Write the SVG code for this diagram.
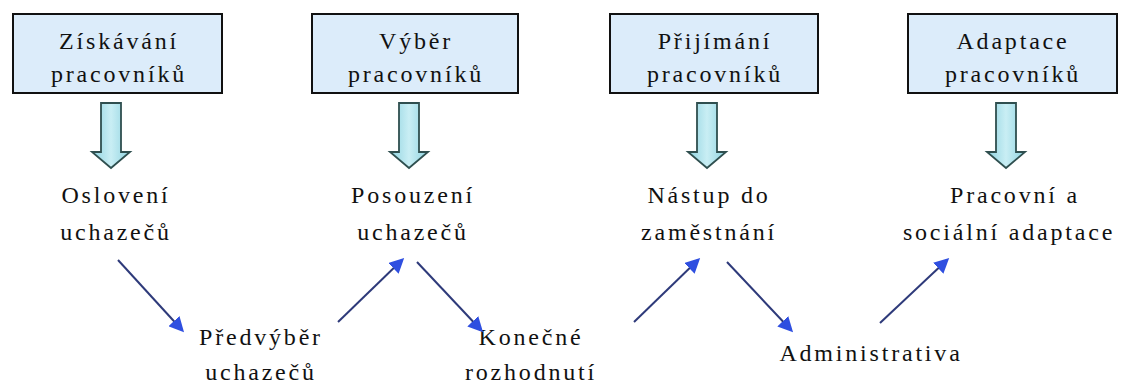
<svg xmlns="http://www.w3.org/2000/svg" width="1122" height="387" viewBox="0 0 1122 387">
<style>
.box{fill:#dcecfa;stroke:#111;stroke-width:2}
.t{font-family:'Liberation Serif','Times New Roman','DejaVu Serif',serif;font-size:24px;letter-spacing:2.8px;fill:#111;text-anchor:middle}
.blk{fill:url(#g);stroke:#2f4f4f;stroke-width:1.8}
.con{stroke:#2e3a7a;stroke-width:2;fill:none;marker-end:url(#ah)}
</style>
<defs>
<linearGradient id="g" x1="0" y1="0" x2="1" y2="0">
<stop offset="0" stop-color="#8fd3e0"/>
<stop offset="0.5" stop-color="#c9eef4"/>
<stop offset="1" stop-color="#8fd3e0"/>
</linearGradient>
<marker id="ah" viewBox="0 0 10 10" refX="8" refY="5" markerWidth="7.5" markerHeight="7.5" orient="auto" markerUnits="strokeWidth">
<path d="M0,0 L10,5 L0,10 Z" fill="#2f4fe0"/>
</marker>
</defs>
<rect width="1122" height="387" fill="#ffffff"/>

<g id="box-ziskavani">
<rect class="box" x="13" y="14" width="209" height="79"/>
<text class="t" x="119" y="49">Získávání</text>
<text class="t" x="119" y="82">pracovníků</text>
</g>
<g id="box-vyber">
<rect class="box" x="312" y="14" width="206" height="79"/>
<text class="t" x="416" y="49">Výběr</text>
<text class="t" x="416" y="82">pracovníků</text>
</g>
<g id="box-prijimani">
<rect class="box" x="610" y="14" width="208" height="79"/>
<text class="t" x="715" y="49">Přijímání</text>
<text class="t" x="715" y="82">pracovníků</text>
</g>
<g id="box-adaptace">
<rect class="box" x="908" y="14" width="209" height="79"/>
<text class="t" x="1013" y="49">Adaptace</text>
<text class="t" x="1013" y="82">pracovníků</text>
</g>

<g id="block-arrows">
<path class="blk" d="M101,103 H121 V152 H130 L111,168 L92,152 H101 Z"/>
<path class="blk" d="M399,103 H419 V152 H428 L409,168 L390,152 H399 Z"/>
<path class="blk" d="M697,103 H717 V152 H726 L707,168 L688,152 H697 Z"/>
<path class="blk" d="M996,103 H1016 V152 H1025 L1006,168 L987,152 H996 Z"/>
</g>

<g id="osloveni">
<text class="t" x="116" y="203">Oslovení</text>
<text class="t" x="116" y="240">uchazečů</text>
</g>
<g id="posouzeni">
<text class="t" x="413" y="203">Posouzení</text>
<text class="t" x="413" y="240">uchazečů</text>
</g>
<g id="nastup">
<text class="t" x="709" y="203">Nástup do</text>
<text class="t" x="709" y="240">zaměstnání</text>
</g>
<g id="pracovni-adaptace">
<text class="t" x="1015" y="203">Pracovní a</text>
<text class="t" x="1009" y="240">sociální adaptace</text>
</g>
<g id="predvyber">
<text class="t" x="261" y="345">Předvýběr</text>
<text class="t" x="261" y="380">uchazečů</text>
</g>
<g id="konecne">
<text class="t" x="531" y="345">Konečné</text>
<text class="t" x="531" y="380">rozhodnutí</text>
</g>
<g id="administrativa">
<text class="t" x="871" y="361">Administrativa</text>
</g>

<g id="connectors">
<line class="con" x1="118" y1="260" x2="182" y2="330"/>
<line class="con" x1="338" y1="322" x2="402" y2="260"/>
<line class="con" x1="417" y1="262" x2="481" y2="330"/>
<line class="con" x1="634" y1="322" x2="698" y2="260"/>
<line class="con" x1="727" y1="262" x2="791" y2="330"/>
<line class="con" x1="880" y1="323" x2="947" y2="260"/>
</g>
</svg>
